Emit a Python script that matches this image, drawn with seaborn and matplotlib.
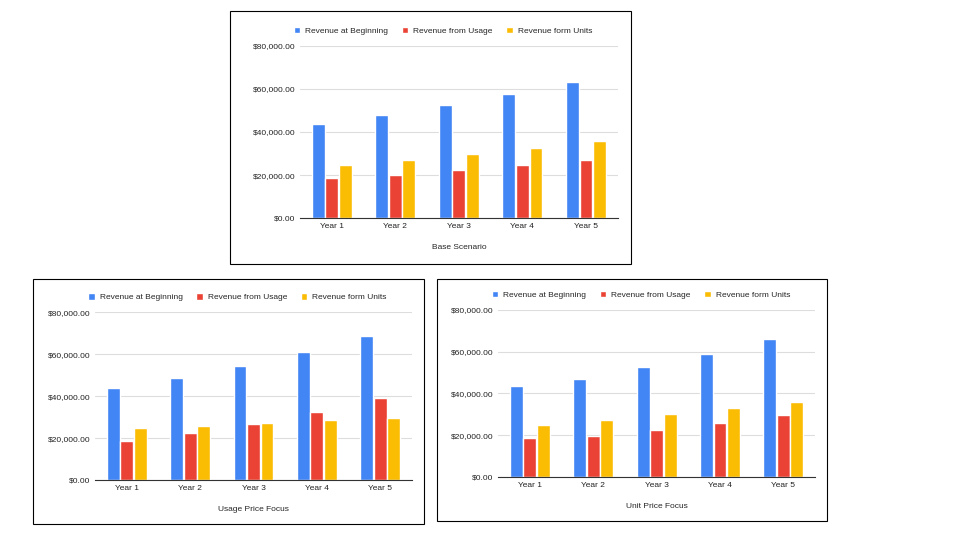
import matplotlib
matplotlib.use("Agg")
import matplotlib.pyplot as plt
import seaborn as sns
import pandas as pd
from matplotlib.patches import Rectangle
from matplotlib.ticker import FuncFormatter

years = ["Year 1", "Year 2", "Year 3", "Year 4", "Year 5"]
series = ["Revenue at Beginning", "Revenue from Usage", "Revenue form Units"]
colors = ["#4285F4", "#EA4335", "#FBBC04"]

base_begin = [43700, 47900, 52500, 57700, 63200]
base_usage = [18600, 20000, 22300, 24600, 27000]
base_units = [24650, 27000, 29800, 32500, 35800]

usage_begin = [43800, 48700, 54300, 61000, 68800]
usage_usage = [18600, 22600, 26900, 32400, 39000]
usage_units = [24750, 25900, 27300, 28500, 29800]

unit_begin = [43700, 47000, 52500, 59000, 66000]
unit_usage = [18600, 19500, 22300, 25700, 29500]
unit_units = [24700, 27200, 30000, 33000, 36000]

charts = [
    ("Base Scenario", [base_begin, base_usage, base_units],
     [0.3125, 0.596, 0.331, 0.319], (230, 11, 631, 264)),
    ("Usage Price Focus", [usage_begin, usage_usage, usage_units],
     [0.099, 0.111, 0.330, 0.311], (33, 279, 424, 524)),
    ("Unit Price Focus", [unit_begin, unit_usage, unit_units],
     [0.519, 0.117, 0.330, 0.309], (437, 279, 827, 521)),
]

sns.set_style("white")
plt.rcParams["font.family"] = ["Liberation Sans", "DejaVu Sans"]
fig = plt.figure(figsize=(9.6, 5.4), dpi=100)
W, H = 960, 540

for title, vals, rect, box in charts:
    x0, y0, x1, y1 = box
    fig.patches.append(Rectangle((x0 / W, 1 - y1 / H), (x1 - x0) / W, (y1 - y0) / H,
                                 transform=fig.transFigure, fill=False,
                                 edgecolor="black", linewidth=0.8))
    rows = []
    for s, v in zip(series, vals):
        for y, val in zip(years, v):
            rows.append({"Year": y, "Series": s, "Value": val})
    df = pd.DataFrame(rows)
    ax = fig.add_axes(rect)
    sns.barplot(data=df, x="Year", y="Value", hue="Series", palette=colors,
                width=0.64, gap=0.05, ax=ax, saturation=1)
    ax.set_ylim(0, 80000)
    ax.set_yticks([0, 20000, 40000, 60000, 80000])
    ax.yaxis.set_major_formatter(FuncFormatter(lambda v, p: f"${v:,.2f}"))
    ax.grid(axis="y", color="#dddddd", linewidth=0.8)
    ax.set_axisbelow(True)
    for sp in ["top", "right", "left"]:
        ax.spines[sp].set_visible(False)
    ax.spines["bottom"].set_color("#333333")
    ax.tick_params(axis="both", labelsize=6, length=0, colors="#222222")
    ax.set_ylabel("")
    ax.set_xlabel(title, fontsize=6, labelpad=10)
    ax.legend(loc="lower center", bbox_to_anchor=(0.45, 1.02), ncol=3, frameon=False,
              fontsize=6, handlelength=0.8, handleheight=0.8, columnspacing=1.6,
              handletextpad=0.6)

fig.savefig("out.png", dpi=100, facecolor="white")
